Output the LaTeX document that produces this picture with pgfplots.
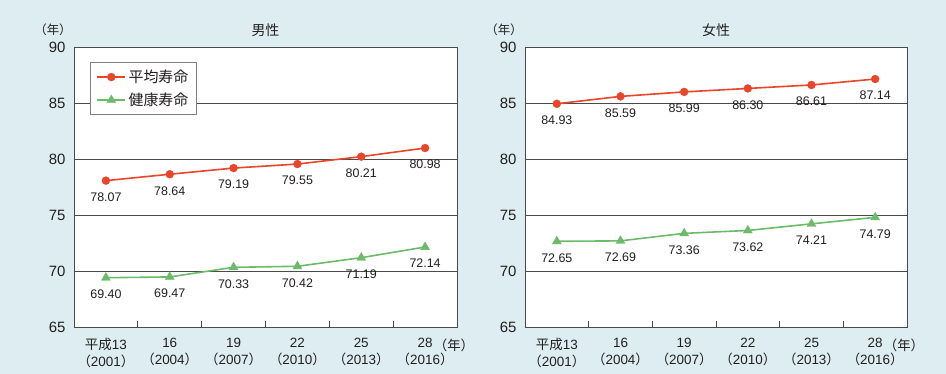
\documentclass[border=0pt]{standalone}
\usepackage{pgfplots}
\pgfplotsset{compat=1.18}
\usepackage{fontspec}
\setmainfont{Liberation Sans}
\newfontfamily\cjk{Noto Sans CJK JP}
\definecolor{bg}{HTML}{DDEDF1}
\definecolor{redl}{HTML}{E9452A}
\definecolor{greenl}{HTML}{6CBB6A}
\definecolor{axc}{HTML}{4A4A4A}
\definecolor{txt}{HTML}{231F20}

\pgfplotsset{lifestyle/.style={
  scale only axis, width=383bp, height=280bp, anchor=south west,
  xmin=-0.5, xmax=5.5, ymin=65, ymax=90,
  ytick={65,70,...,90}, ymajorgrids, grid style={axc, line width=0.8bp},
  axis line style={axc, line width=0.8bp},
  xtick={0,...,5},
  xticklabels={{{\cjk 平成}13\\{\cjk （}2001{\cjk ）}},{16\\{\cjk （}2004{\cjk ）}},{19\\{\cjk （}2007{\cjk ）}},{22\\{\cjk （}2010{\cjk ）}},{25\\{\cjk （}2013{\cjk ）}},{28\\{\cjk （}2016{\cjk ）}}},
  xticklabel style={align=center, font=\fontsize{13.5}{17}\selectfont, text=txt, yshift=-8bp},
  yticklabel style={font=\fontsize{15}{15}\selectfont, text=txt, xshift=-5bp},
  major tick length=0pt,
  minor xtick={0.5,1.5,...,4.5}, minor tick length=6bp, tick align=inside,
  xtick pos=bottom, ytick pos=left,
  minor tick style={axc, line width=0.8bp},
  axis background/.style={fill=white},
  /pgf/number format/assume math mode=true,
  nodes near coords, point meta=explicit symbolic,
  nodes near coords style={font=\fontsize{12.5}{13}\selectfont, anchor=center, yshift=-16.5bp, text=txt, inner sep=0pt},
  clip=false,
  redline/.style={redl, line width=1.6bp, mark=*, mark size=4bp, mark options={solid, fill=redl, draw=redl, line width=0.3bp}},
  greenline/.style={greenl, line width=1.6bp, mark=triangle*, mark size=5.2bp, mark options={solid, fill=greenl, draw=greenl, line width=0.3bp}},
  legend image code/.code={\draw[mark repeat=2,mark phase=2,##1] plot coordinates {(0bp,0bp) (14bp,0bp) (28bp,0bp)};},
}}

\begin{document}
\begin{tikzpicture}
\fill[bg] (0bp,0bp) rectangle (946bp,374bp);
\useasboundingbox (0bp,0bp) rectangle (946bp,374bp);

% Left: male
\begin{axis}[lifestyle, at={(74bp,47bp)},
  legend style={at={(rel axis cs:0.042,0.946)}, anchor=north west, draw=axc!70, line width=0.8bp,
    font=\cjk\fontsize{15}{17}\selectfont, text=txt, fill=white, inner xsep=6bp, inner ysep=5bp,
    row sep=4bp, nodes={inner sep=2.5bp}},
  legend cell align=left]
\addplot[redline] coordinates {(0,78.07)[78.07] (1,78.64)[78.64] (2,79.19)[79.19] (3,79.55)[79.55] (4,80.21)[80.21] (5,80.98)[80.98]};
\addlegendentry{平均寿命}
\addplot[greenline] coordinates {(0,69.40)[69.40] (1,69.47)[69.47] (2,70.33)[70.33] (3,70.42)[70.42] (4,71.19)[71.19] (5,72.14)[72.14]};
\addlegendentry{健康寿命}
\node[font=\cjk\fontsize{14}{14}\selectfont, text=txt] at (rel axis cs:0.5,1) [yshift=17bp] {男性};
\node[font=\cjk\fontsize{12.5}{12.5}\selectfont, text=txt] at (rel axis cs:0,1) [xshift=-21bp, yshift=17bp] {（年）};
\node[font=\cjk\fontsize{13.5}{13.5}\selectfont, text=txt] at (rel axis cs:1,0) [xshift=-3bp, yshift=-18bp] {（年）};
\end{axis}

% Right: female
\begin{axis}[lifestyle, at={(525bp,47bp)}, width=382bp]
\addplot[redline] coordinates {(0,84.93)[84.93] (1,85.59)[85.59] (2,85.99)[85.99] (3,86.30)[86.30] (4,86.61)[86.61] (5,87.14)[87.14]};
\addplot[greenline] coordinates {(0,72.65)[72.65] (1,72.69)[72.69] (2,73.36)[73.36] (3,73.62)[73.62] (4,74.21)[74.21] (5,74.79)[74.79]};
\node[font=\cjk\fontsize{14}{14}\selectfont, text=txt] at (rel axis cs:0.5,1) [yshift=17bp] {女性};
\node[font=\cjk\fontsize{12.5}{12.5}\selectfont, text=txt] at (rel axis cs:0,1) [xshift=-21bp, yshift=17bp] {（年）};
\node[font=\cjk\fontsize{13.5}{13.5}\selectfont, text=txt] at (rel axis cs:1,0) [xshift=-3bp, yshift=-18bp] {（年）};
\end{axis}
\end{tikzpicture}
\end{document}
